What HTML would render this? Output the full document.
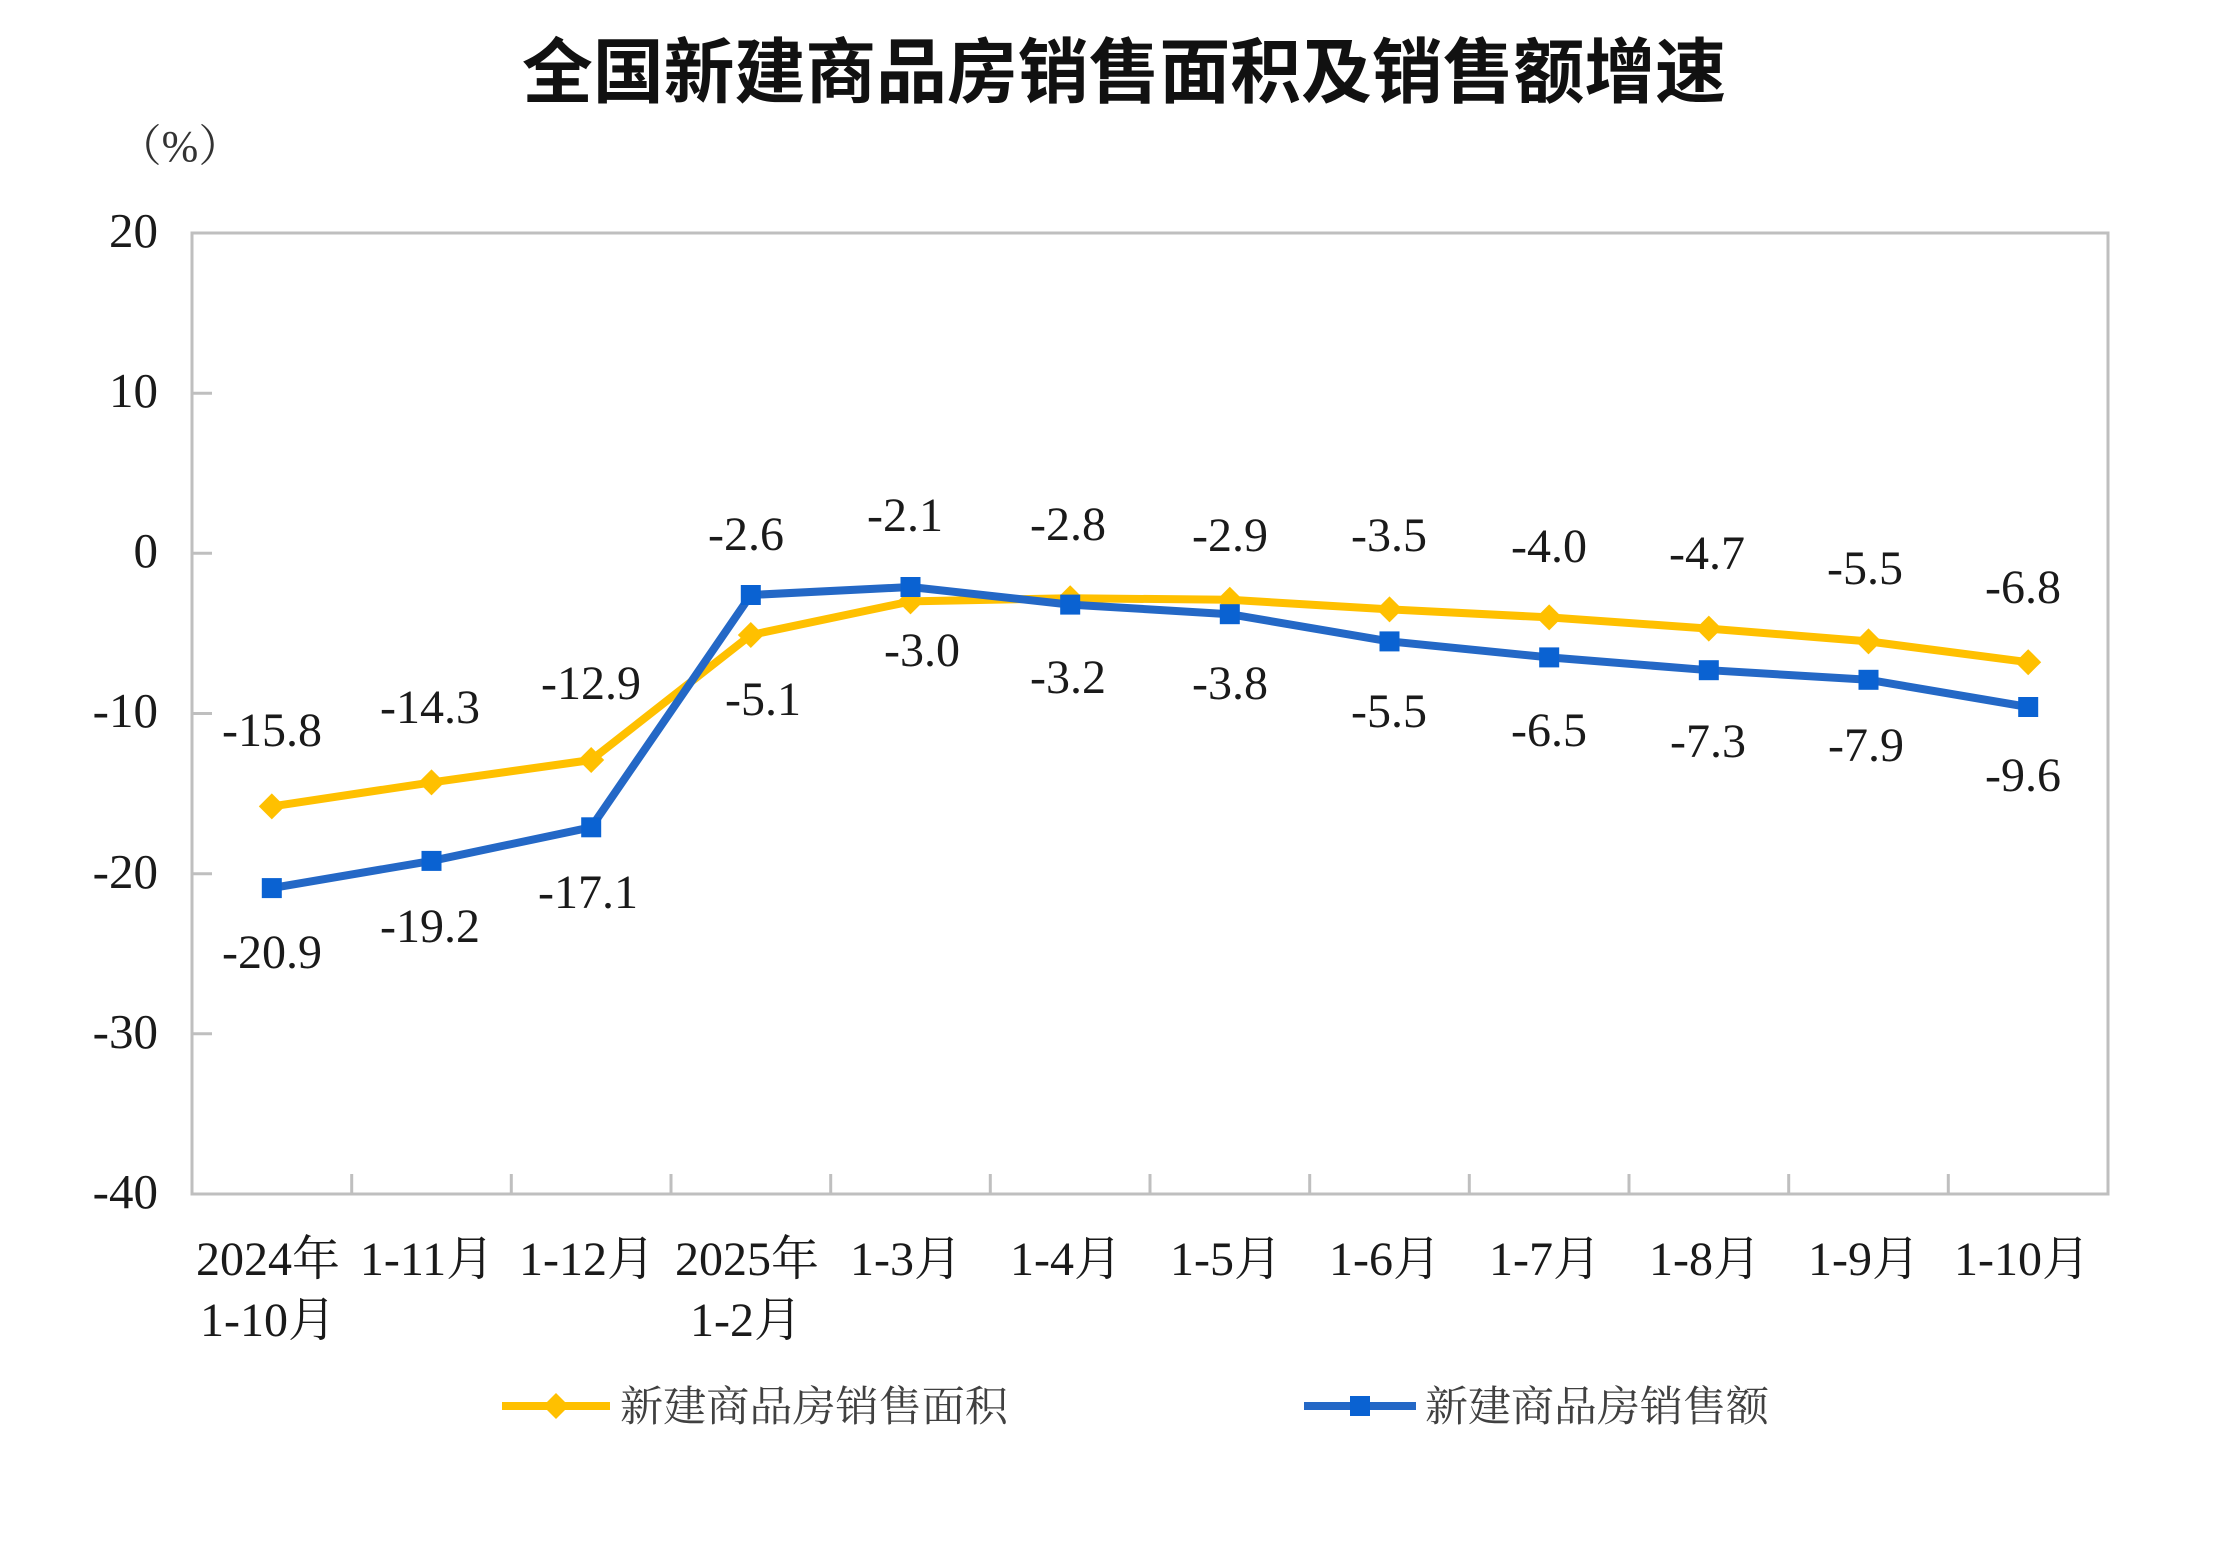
<!DOCTYPE html>
<html>
<head>
<meta charset="utf-8">
<style>
html,body{margin:0;padding:0;background:#fff;}
svg{display:block;}
.lab{font-family:"Liberation Serif","Noto Serif CJK SC",serif;font-size:48px;fill:#1a1a1a;text-anchor:middle;}
.ytk{font-family:"Liberation Serif",serif;font-size:49px;fill:#1a1a1a;text-anchor:end;}
.xl{font-family:"Liberation Serif","Noto Serif CJK SC",serif;font-size:48px;fill:#1a1a1a;text-anchor:middle;}
.leg{font-family:"Liberation Serif","Noto Serif CJK SC",serif;font-size:42px;fill:#404040;}
.title{font-family:"Liberation Sans","Noto Sans CJK SC",sans-serif;font-size:71px;font-weight:bold;fill:#111;}
</style>
</head>
<body>
<svg width="2216" height="1552" viewBox="0 0 2216 1552" xmlns="http://www.w3.org/2000/svg">
<rect x="0" y="0" width="2216" height="1552" fill="#fff"/>
<text class="title" x="522" y="97" textLength="1204" lengthAdjust="spacingAndGlyphs">全国新建商品房销售面积及销售额增速</text>
<text x="180" y="161" text-anchor="middle" style="font-family:'Liberation Serif','Noto Serif CJK SC',serif;font-size:44px;fill:#333;">（%）</text>

<rect x="192" y="233" width="1916" height="961" fill="none" stroke="#bfbfbf" stroke-width="3"/>
<g stroke="#bfbfbf" stroke-width="3">
<line x1="192" y1="393.2" x2="212" y2="393.2"/>
<line x1="192" y1="553.3" x2="212" y2="553.3"/>
<line x1="192" y1="713.5" x2="212" y2="713.5"/>
<line x1="192" y1="873.7" x2="212" y2="873.7"/>
<line x1="192" y1="1033.8" x2="212" y2="1033.8"/>
<line x1="351.7" y1="1194" x2="351.7" y2="1174"/>
<line x1="511.3" y1="1194" x2="511.3" y2="1174"/>
<line x1="671" y1="1194" x2="671" y2="1174"/>
<line x1="830.7" y1="1194" x2="830.7" y2="1174"/>
<line x1="990.3" y1="1194" x2="990.3" y2="1174"/>
<line x1="1150" y1="1194" x2="1150" y2="1174"/>
<line x1="1309.7" y1="1194" x2="1309.7" y2="1174"/>
<line x1="1469.3" y1="1194" x2="1469.3" y2="1174"/>
<line x1="1629" y1="1194" x2="1629" y2="1174"/>
<line x1="1788.7" y1="1194" x2="1788.7" y2="1174"/>
<line x1="1948.3" y1="1194" x2="1948.3" y2="1174"/>
</g>
<text class="ytk" x="158" y="247">20</text>
<text class="ytk" x="158" y="407">10</text>
<text class="ytk" x="158" y="567">0</text>
<text class="ytk" x="158" y="727">-10</text>
<text class="ytk" x="158" y="888">-20</text>
<text class="ytk" x="158" y="1048">-30</text>
<text class="ytk" x="158" y="1208">-40</text>

<text class="xl" x="268" y="1275">2024年</text>
<text class="xl" x="268" y="1336">1-10月</text>
<text class="xl" x="427" y="1275">1-11月</text>
<text class="xl" x="587" y="1275">1-12月</text>
<text class="xl" x="747" y="1275">2025年</text>
<text class="xl" x="746" y="1336">1-2月</text>
<text class="xl" x="906" y="1275">1-3月</text>
<text class="xl" x="1066" y="1275">1-4月</text>
<text class="xl" x="1226" y="1275">1-5月</text>
<text class="xl" x="1385" y="1275">1-6月</text>
<text class="xl" x="1545" y="1275">1-7月</text>
<text class="xl" x="1705" y="1275">1-8月</text>
<text class="xl" x="1864" y="1275">1-9月</text>
<text class="xl" x="2022" y="1275">1-10月</text>

<polyline fill="none" stroke="#FFC000" stroke-width="8" stroke-linejoin="round"
points="271.8,806.4 431.5,782.4 591.2,760.0 750.8,635.0 910.5,601.4 1070.2,598.2 1229.8,599.8 1389.5,609.4 1549.2,617.4 1708.8,628.6 1868.5,641.4 2028.2,662.2"/>
<g fill="#FFC000">
<polygon points="271.8,793.4 284.8,806.4 271.8,819.4 258.8,806.4"/>
<polygon points="431.5,769.4 444.5,782.4 431.5,795.4 418.5,782.4"/>
<polygon points="591.2,747.0 604.2,760.0 591.2,773.0 578.2,760.0"/>
<polygon points="750.8,622.0 763.8,635.0 750.8,648.0 737.8,635.0"/>
<polygon points="910.5,588.4 923.5,601.4 910.5,614.4 897.5,601.4"/>
<polygon points="1070.2,585.2 1083.2,598.2 1070.2,611.2 1057.2,598.2"/>
<polygon points="1229.8,586.8 1242.8,599.8 1229.8,612.8 1216.8,599.8"/>
<polygon points="1389.5,596.4 1402.5,609.4 1389.5,622.4 1376.5,609.4"/>
<polygon points="1549.2,604.4 1562.2,617.4 1549.2,630.4 1536.2,617.4"/>
<polygon points="1708.8,615.6 1721.8,628.6 1708.8,641.6 1695.8,628.6"/>
<polygon points="1868.5,628.4 1881.5,641.4 1868.5,654.4 1855.5,641.4"/>
<polygon points="2028.2,649.2 2041.2,662.2 2028.2,675.2 2015.2,662.2"/>
</g>

<polyline fill="none" stroke="#2468C6" stroke-width="8" stroke-linejoin="round"
points="271.8,888.1 431.5,860.9 591.2,827.3 750.8,595.0 910.5,587.0 1070.2,604.6 1229.8,614.2 1389.5,641.4 1549.2,657.4 1708.8,670.2 1868.5,679.8 2028.2,707.0"/>
<g fill="#0A62D2">
<rect x="261.8" y="878.1" width="20" height="20"/>
<rect x="421.5" y="850.9" width="20" height="20"/>
<rect x="581.2" y="817.3" width="20" height="20"/>
<rect x="740.8" y="585.0" width="20" height="20"/>
<rect x="900.5" y="577.0" width="20" height="20"/>
<rect x="1060.2" y="594.6" width="20" height="20"/>
<rect x="1219.8" y="604.2" width="20" height="20"/>
<rect x="1379.5" y="631.4" width="20" height="20"/>
<rect x="1539.2" y="647.4" width="20" height="20"/>
<rect x="1698.8" y="660.2" width="20" height="20"/>
<rect x="1858.5" y="669.8" width="20" height="20"/>
<rect x="2018.2" y="697.0" width="20" height="20"/>
</g>

<text class="lab" x="272" y="746">-15.8</text>
<text class="lab" x="430" y="723">-14.3</text>
<text class="lab" x="591" y="699">-12.9</text>
<text class="lab" x="763" y="715">-5.1</text>
<text class="lab" x="922" y="666">-3.0</text>
<text class="lab" x="1068" y="540">-2.8</text>
<text class="lab" x="1230" y="551">-2.9</text>
<text class="lab" x="1389" y="551">-3.5</text>
<text class="lab" x="1549" y="562">-4.0</text>
<text class="lab" x="1707" y="569">-4.7</text>
<text class="lab" x="1865" y="584">-5.5</text>
<text class="lab" x="2023" y="603">-6.8</text>

<text class="lab" x="272" y="968">-20.9</text>
<text class="lab" x="430" y="942">-19.2</text>
<text class="lab" x="588" y="908">-17.1</text>
<text class="lab" x="746" y="550">-2.6</text>
<text class="lab" x="905" y="531">-2.1</text>
<text class="lab" x="1068" y="693">-3.2</text>
<text class="lab" x="1230" y="699">-3.8</text>
<text class="lab" x="1389" y="727">-5.5</text>
<text class="lab" x="1549" y="746">-6.5</text>
<text class="lab" x="1708" y="757">-7.3</text>
<text class="lab" x="1866" y="761">-7.9</text>
<text class="lab" x="2023" y="791">-9.6</text>

<line x1="502" y1="1406" x2="610" y2="1406" stroke="#FFC000" stroke-width="8"/>
<polygon points="556,1393 569,1406 556,1419 543,1406" fill="#FFC000"/>
<text class="leg" x="620" y="1421" textLength="388" lengthAdjust="spacingAndGlyphs">新建商品房销售面积</text>
<line x1="1304" y1="1406" x2="1416" y2="1406" stroke="#2468C6" stroke-width="8"/>
<rect x="1350" y="1396" width="20" height="20" fill="#0A62D2"/>
<text class="leg" x="1425" y="1421" textLength="344" lengthAdjust="spacingAndGlyphs">新建商品房销售额</text>
</svg>
</body>
</html>
